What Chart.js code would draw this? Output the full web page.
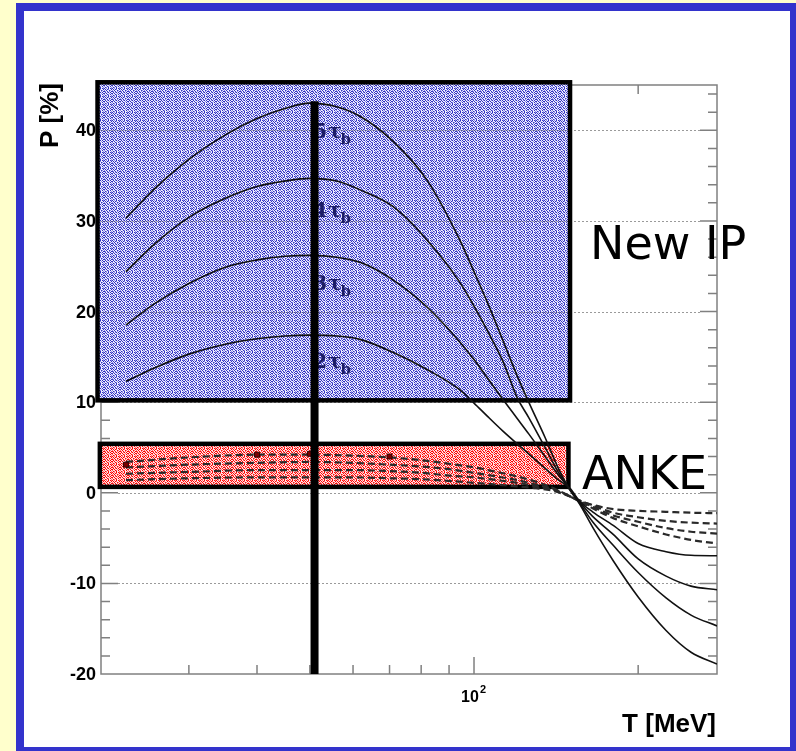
<!DOCTYPE html>
<html>
<head>
<meta charset="utf-8">
<title>P vs T</title>
<script src="https://cdn.jsdelivr.net/npm/chart.js@4.4.1/dist/chart.umd.min.js"></script>
<style>
  html, body { margin: 0; padding: 0; background: #FFFFCC; overflow: hidden; }
  #frame {
    position: absolute; left: 16px; top: 3px; width: 782px; height: 752px;
    box-sizing: border-box; border: 8px solid #3333CC; background: #FFFFFF;
  }
  #chart { position: absolute; left: 0; top: 0; }
</style>
</head>
<body>
<div id="frame"></div>
<canvas id="chart" width="796" height="751"></canvas>
<script>
// ======================================================
// Polarisation P vs beam energy T
// ======================================================

// ------------------------------------------------------
// Data
// ------------------------------------------------------
const T_SOLID = [23, 26, 30, 35, 40, 45, 50, 56, 62, 71, 82, 94, 100, 106, 113, 120, 126, 135, 143, 150, 156, 165, 180, 200, 225, 250, 279];
const P_5TB = [30.3, 33.6, 36.8, 39.5, 41.3, 42.4, 43.0, 42.6, 41.5, 38.8, 34.5, 28.0, 24.4, 20.9, 16.8, 12.9, 10.0, 6.1, 2.6, 0.3, -1.2, -3.8, -7.5, -11.5, -15.2, -17.6, -18.9];
const P_4TB = [24.4, 27.5, 30.4, 32.5, 33.8, 34.4, 34.7, 34.4, 33.4, 31.6, 27.9, 23.3, 20.6, 17.8, 14.5, 10.5, 8.3, 5.0, 2.2, 0.3, -1.1, -3.2, -5.8, -8.8, -11.6, -13.5, -14.7];
const P_3TB = [18.5, 20.9, 23.1, 24.9, 25.7, 26.1, 26.2, 26.0, 25.4, 23.5, 20.5, 16.7, 14.7, 12.6, 10.3, 8.2, 6.5, 4.0, 1.9, 0.4, -1.0, -2.6, -4.6, -7.3, -9.2, -10.3, -10.7];
const P_2TB = [12.3, 13.8, 15.3, 16.4, 17.0, 17.3, 17.4, 17.3, 16.9, 15.5, 13.6, 11.4, 9.9, 8.4, 6.8, 5.4, 4.3, 2.7, 1.4, 0.5, -0.9, -2.1, -3.6, -5.6, -6.5, -6.9, -6.95];

const T_DASHED = [23, 30, 40, 50, 60, 70, 80, 90, 100, 110, 120, 130, 140, 150, 160, 180, 200, 225, 250, 279];
const D_A = [3.4, 3.9, 4.2, 4.2, 4.1, 3.9, 3.6, 3.2, 2.8, 2.3, 1.8, 1.2, 0.5, -0.4, -1.3, -2.8, -3.7, -4.6, -5.2, -5.6];
const D_B = [2.8, 3.1, 3.3, 3.4, 3.3, 3.1, 2.9, 2.6, 2.2, 1.8, 1.4, 0.9, 0.4, -0.4, -1.2, -2.5, -3.2, -3.9, -4.3, -4.5];
const D_C = [2.1, 2.3, 2.5, 2.5, 2.5, 2.4, 2.2, 1.9, 1.7, 1.4, 1.1, 0.7, 0.3, -0.4, -1.1, -2.2, -2.7, -3.1, -3.3, -3.4];
const D_D = [1.4, 1.6, 1.7, 1.7, 1.7, 1.6, 1.5, 1.3, 1.1, 0.9, 0.7, 0.5, 0.2, -0.4, -1.1, -1.8, -2.0, -2.1, -2.2, -2.25];

const T_POINTS = [23, 40, 50, 70];
const P_POINTS = [3.1, 4.2, 4.3, 4.0];

// vertical cut
const CUT_T = [51, 51];
const CUT_P = [-20, 43.2];

// shaded regions [Tmin, Tmax, Pmin, Pmax]
const REGION_NEW_IP = [20.4, 150, 10.2, 45.3];
const REGION_ANKE = [20.6, 149, 0.65, 5.4];

// curve labels
const LABEL_N = ["5", "4", "3", "2"];
const LABEL_T = 50.7;
const LABEL_P = [39.2, 30.4, 22.4, 13.8];

// axes
const T_MIN = 20.7;
const T_MAX = 279;
const P_MIN = -20;
const P_MAX = 45;
const Y_LABELS = [-20, -10, 0, 10, 20, 30, 40];
const Y_GRID = [-10, 0, 10, 20, 30, 40];
const X_MINOR = [30, 40, 50, 60, 70, 80, 90, 200];
const X_MAJOR = [100];

// ------------------------------------------------------
// Helpers
// ------------------------------------------------------
function pts(xs, ys) {
  return xs.map(function (x, i) { return { x: x, y: ys[i] }; });
}

function makePattern(ctx, dark, mid, light) {
  const rows = [
    "DWMWDWDM",
    "WDWDMWWD",
    "MWDWWDMW",
    "DMWDWMWD",
    "WDWMDWDW",
    "DWDWWMWD",
    "MWWDMWDW",
    "WDMWDWWM"
  ];
  const c = document.createElement("canvas");
  c.width = 8;
  c.height = 8;
  const g = c.getContext("2d");
  for (let r = 0; r < rows.length; r++) {
    for (let k = 0; k < rows[r].length; k++) {
      const ch = rows[r][k];
      g.fillStyle = ch === "D" ? dark : (ch === "M" ? mid : light);
      g.fillRect(k, r, 1, 1);
    }
  }
  return ctx.createPattern(c, "repeat");
}

function drawRegion(ctx, sx, sy, reg, pattern) {
  const x0 = sx.getPixelForValue(reg[0]);
  const x1 = sx.getPixelForValue(reg[1]);
  const y0 = sy.getPixelForValue(reg[3]);
  const y1 = sy.getPixelForValue(reg[2]);
  ctx.fillStyle = pattern;
  ctx.fillRect(x0, y0, x1 - x0, y1 - y0);
  // grid shows through
  ctx.strokeStyle = "rgba(90,90,90,0.35)";
  ctx.lineWidth = 1;
  ctx.setLineDash([]);
  Y_GRID.forEach(function (v) {
    if (v > reg[2] && v < reg[3]) {
      const yy = Math.round(sy.getPixelForValue(v)) + 0.5;
      ctx.beginPath();
      ctx.moveTo(x0, yy);
      ctx.lineTo(x1, yy);
      ctx.stroke();
    }
  });
  ctx.strokeStyle = "#000000";
  ctx.lineWidth = 4.5;
  ctx.strokeRect(x0, y0, x1 - x0, y1 - y0);
}

// ------------------------------------------------------
// Frame, grid, regions, labels (under the curves)
// ------------------------------------------------------
const backdrop = {
  id: "backdrop",
  beforeDatasetsDraw: function (chart) {
    const ctx = chart.ctx;
    const a = chart.chartArea;
    const sx = chart.scales.x;
    const sy = chart.scales.y;
    ctx.save();

    // dotted grid
    ctx.strokeStyle = "#9a9a9a";
    ctx.lineWidth = 1;
    ctx.setLineDash([2, 2]);
    Y_GRID.forEach(function (v) {
      const yy = Math.round(sy.getPixelForValue(v)) + 0.5;
      ctx.beginPath();
      ctx.moveTo(a.left + 17, yy);
      ctx.lineTo(a.right - 17, yy);
      ctx.stroke();
    });
    ctx.setLineDash([]);

    // axis box
    ctx.strokeStyle = "#808080";
    ctx.lineWidth = 1.5;
    ctx.strokeRect(a.left, a.top, a.right - a.left, a.bottom - a.top);

    // y ticks, both sides
    for (let v = P_MIN + 2; v < P_MAX; v += 2) {
      const yy = sy.getPixelForValue(v);
      const len = v % 10 === 0 ? 17 : 9;
      ctx.beginPath();
      ctx.moveTo(a.left, yy);
      ctx.lineTo(a.left + len, yy);
      ctx.moveTo(a.right, yy);
      ctx.lineTo(a.right - len, yy);
      ctx.stroke();
    }
    // x ticks, top and bottom
    X_MINOR.concat(X_MAJOR).forEach(function (t) {
      const xx = sx.getPixelForValue(t);
      const len = X_MAJOR.indexOf(t) >= 0 ? 17 : 9;
      ctx.beginPath();
      ctx.moveTo(xx, a.bottom);
      ctx.lineTo(xx, a.bottom - len);
      ctx.moveTo(xx, a.top);
      ctx.lineTo(xx, a.top + len);
      ctx.stroke();
    });

    // shaded regions
    drawRegion(ctx, sx, sy, REGION_NEW_IP, makePattern(ctx, "#3030c0", "#8c8ce4", "#eeeeff"));
    drawRegion(ctx, sx, sy, REGION_ANKE, makePattern(ctx, "#ff0000", "#ff7070", "#ffe6e6"));

    // curve labels n·tau_b
    ctx.fillStyle = "#1c1c66";
    ctx.textAlign = "left";
    ctx.textBaseline = "alphabetic";
    const lx = sx.getPixelForValue(LABEL_T);
    for (let i = 0; i < LABEL_N.length; i++) {
      const ly = sy.getPixelForValue(LABEL_P[i]);
      ctx.font = "bold 20px 'DejaVu Serif', serif";
      ctx.fillText(LABEL_N[i], lx, ly);
      const w1 = ctx.measureText(LABEL_N[i]).width;
      ctx.fillText("\u03C4", lx + w1 + 1, ly);
      const w2 = ctx.measureText("\u03C4").width;
      ctx.font = "bold 15px 'DejaVu Serif', serif";
      ctx.fillText("b", lx + w1 + w2, ly + 6);
    }
    ctx.restore();
  },

  // ----------------------------------------------------
  // Tick labels, axis titles, region names (on top)
  // ----------------------------------------------------
  afterDraw: function (chart) {
    const ctx = chart.ctx;
    const a = chart.chartArea;
    const sx = chart.scales.x;
    const sy = chart.scales.y;
    ctx.save();
    ctx.fillStyle = "#000000";

    ctx.font = "bold 18px 'Liberation Sans', Arial, sans-serif";
    ctx.textAlign = "right";
    ctx.textBaseline = "middle";
    Y_LABELS.forEach(function (v) {
      ctx.fillText(String(v), a.left - 5, sy.getPixelForValue(v) + 1);
    });

    // 10^2
    const x100 = sx.getPixelForValue(X_MAJOR[0]);
    ctx.font = "bold 16px 'Liberation Sans', Arial, sans-serif";
    ctx.textAlign = "left";
    ctx.textBaseline = "alphabetic";
    const w10 = ctx.measureText("10").width;
    ctx.fillText("10", x100 - w10 / 2 - 4, a.bottom + 28);
    ctx.font = "bold 11px 'Liberation Sans', Arial, sans-serif";
    ctx.fillText("2", x100 + w10 / 2 - 3, a.bottom + 19);

    // axis titles
    ctx.font = "bold 26px 'Liberation Sans', Arial, sans-serif";
    ctx.textAlign = "right";
    ctx.fillText("T [MeV]", a.right - 1, a.bottom + 58);
    ctx.save();
    ctx.translate(58, a.top - 2);
    ctx.rotate(-Math.PI / 2);
    ctx.textAlign = "right";
    ctx.textBaseline = "alphabetic";
    ctx.fillText("P [%]", 0, 0);
    ctx.restore();

    // region names
    ctx.font = "46px 'DejaVu Sans', sans-serif";
    ctx.textAlign = "left";
    ctx.textBaseline = "alphabetic";
    ctx.fillText("New IP", 590, sy.getPixelForValue(25.8));
    ctx.fillText("ANKE", 582, sy.getPixelForValue(0.45));
    ctx.restore();
  }
};

// ------------------------------------------------------
// Chart
// ------------------------------------------------------
const solidStyle = { borderColor: "#111111", borderWidth: 1.6, pointRadius: 0, cubicInterpolationMode: "monotone", fill: false };
const dashStyle = { borderColor: "#2a2a2a", borderWidth: 2.2, borderDash: [7, 4], pointRadius: 0, cubicInterpolationMode: "monotone", fill: false };

// first dataset is painted last (on top)
const datasets = [
  { label: "cut", data: pts(CUT_T, CUT_P), borderColor: "#000000", borderWidth: 8, pointRadius: 0, borderCapStyle: "butt" },
  { label: "data", data: pts(T_POINTS, P_POINTS), showLine: false, pointStyle: "rect", pointRadius: 3.5, backgroundColor: "#7a0000", borderColor: "#300000", borderWidth: 1 },
  Object.assign({ label: "5tb", data: pts(T_SOLID, P_5TB) }, solidStyle),
  Object.assign({ label: "4tb", data: pts(T_SOLID, P_4TB) }, solidStyle),
  Object.assign({ label: "3tb", data: pts(T_SOLID, P_3TB) }, solidStyle),
  Object.assign({ label: "2tb", data: pts(T_SOLID, P_2TB) }, solidStyle),
  Object.assign({ label: "dA", data: pts(T_DASHED, D_A) }, dashStyle),
  Object.assign({ label: "dB", data: pts(T_DASHED, D_B) }, dashStyle),
  Object.assign({ label: "dC", data: pts(T_DASHED, D_C) }, dashStyle),
  Object.assign({ label: "dD", data: pts(T_DASHED, D_D) }, dashStyle)
];

new Chart(document.getElementById("chart").getContext("2d"), {
  type: "line",
  data: { datasets: datasets },
  options: {
    responsive: false,
    animation: false,
    devicePixelRatio: 1,
    events: [],
    layout: { padding: { left: 101, top: 85, right: 79, bottom: 77 } },
    plugins: { legend: { display: false }, tooltip: { enabled: false } },
    scales: {
      x: { type: "logarithmic", min: T_MIN, max: T_MAX, display: false },
      y: { type: "linear", min: P_MIN, max: P_MAX, display: false }
    }
  },
  plugins: [backdrop]
});
</script>
</body>
</html>
